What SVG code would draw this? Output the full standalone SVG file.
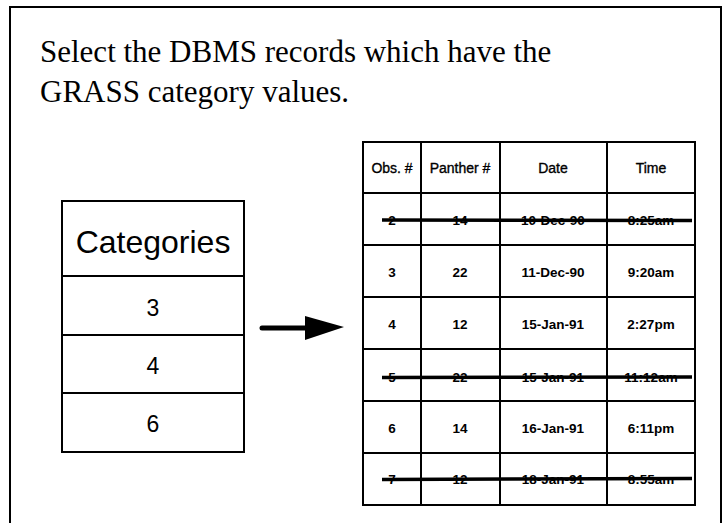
<svg xmlns="http://www.w3.org/2000/svg" width="722" height="523" viewBox="0 0 722 523">
  <style>
    .frame { fill: #fff; stroke: #000; stroke-width: 2; }
    .grid { fill: none; stroke: #000; stroke-width: 2; }
    .title { font-family: "Liberation Serif", "Times New Roman", serif; font-size: 31px; fill: #000; }
    .cat { font-family: "Liberation Sans", Arial, sans-serif; fill: #000; text-anchor: middle; }
    .cell { font-family: "Liberation Sans", Arial, sans-serif; font-size: 13.5px; font-weight: bold; fill: #000; text-anchor: middle; }
    .head { font-family: "Liberation Sans", Arial, sans-serif; font-size: 14px; fill: #000; stroke: #000; stroke-width: 0.35; text-anchor: middle; }
    .strike { stroke: #000; stroke-width: 3.5; stroke-linecap: butt; }
  </style>

  <rect width="722" height="523" fill="#fff"/>

  <!-- outer slide frame (bottom edge runs off the page) -->
  <rect class="frame" x="10" y="7" width="711" height="530"/>

  <!-- heading -->
  <g id="heading">
    <text class="title" x="40" y="62">Select the DBMS records which have the</text>
    <text class="title" x="40" y="102">GRASS category values.</text>
  </g>

  <!-- GRASS category list -->
  <g id="categories">
    <rect class="grid" x="62" y="201" width="182" height="251"/>
    <line class="grid" x1="62" y1="276" x2="244" y2="276"/>
    <line class="grid" x1="62" y1="335" x2="244" y2="335"/>
    <line class="grid" x1="62" y1="393" x2="244" y2="393"/>
    <text class="cat" x="153" y="253" font-size="32">Categories</text>
    <text class="cat" x="153" y="316" font-size="23">3</text>
    <text class="cat" x="153" y="374" font-size="23">4</text>
    <text class="cat" x="153" y="432" font-size="23">6</text>
  </g>

  <!-- selection arrow -->
  <g id="connectors">
    <line x1="262" y1="328" x2="306" y2="328" stroke="#000" stroke-width="5" stroke-linecap="round"/>
    <path d="M305,316 L344,327 L305,340 z" fill="#000"/>
  </g>

  <!-- DBMS records table -->
  <g id="records">
    <rect class="grid" x="363" y="142" width="332" height="363"/>
    <line class="grid" x1="421" y1="142" x2="421" y2="505"/>
    <line class="grid" x1="500" y1="142" x2="500" y2="505"/>
    <line class="grid" x1="607" y1="142" x2="607" y2="505"/>
    <line class="grid" x1="363" y1="193" x2="695" y2="193"/>
    <line class="grid" x1="363" y1="245" x2="695" y2="245"/>
    <line class="grid" x1="363" y1="297" x2="695" y2="297"/>
    <line class="grid" x1="363" y1="349" x2="695" y2="349"/>
    <line class="grid" x1="363" y1="401" x2="695" y2="401"/>
    <line class="grid" x1="363" y1="453" x2="695" y2="453"/>

    <!-- header -->
    <text class="head" x="392" y="173">Obs. #</text>
    <text class="head" x="460" y="173">Panther #</text>
    <text class="head" x="553" y="173">Date</text>
    <text class="head" x="651" y="173">Time</text>

    <!-- row: obs 2 (removed) -->
    <text class="cell" x="392" y="225">2</text>
    <text class="cell" x="460" y="225">14</text>
    <text class="cell" x="553" y="225">10-Dec-90</text>
    <text class="cell" x="651" y="225">8:25am</text>
    <line class="strike" x1="382" y1="220" x2="692" y2="220.5"/>

    <!-- row: obs 3 -->
    <text class="cell" x="392" y="277">3</text>
    <text class="cell" x="460" y="277">22</text>
    <text class="cell" x="553" y="277">11-Dec-90</text>
    <text class="cell" x="651" y="277">9:20am</text>

    <!-- row: obs 4 -->
    <text class="cell" x="392" y="329">4</text>
    <text class="cell" x="460" y="329">12</text>
    <text class="cell" x="553" y="329">15-Jan-91</text>
    <text class="cell" x="651" y="329">2:27pm</text>

    <!-- row: obs 5 (removed) -->
    <text class="cell" x="392" y="382">5</text>
    <text class="cell" x="460" y="382">22</text>
    <text class="cell" x="553" y="382">15-Jan-91</text>
    <text class="cell" x="651" y="382">11:12am</text>
    <line class="strike" x1="382" y1="377.5" x2="692" y2="377"/>

    <!-- row: obs 6 -->
    <text class="cell" x="392" y="433">6</text>
    <text class="cell" x="460" y="433">14</text>
    <text class="cell" x="553" y="433">16-Jan-91</text>
    <text class="cell" x="651" y="433">6:11pm</text>

    <!-- row: obs 7 (removed) -->
    <text class="cell" x="392" y="484">7</text>
    <text class="cell" x="460" y="484">12</text>
    <text class="cell" x="553" y="484">18-Jan-91</text>
    <text class="cell" x="651" y="484">8:55am</text>
    <line class="strike" x1="382" y1="479.5" x2="692" y2="478.5"/>
  </g>
</svg>
